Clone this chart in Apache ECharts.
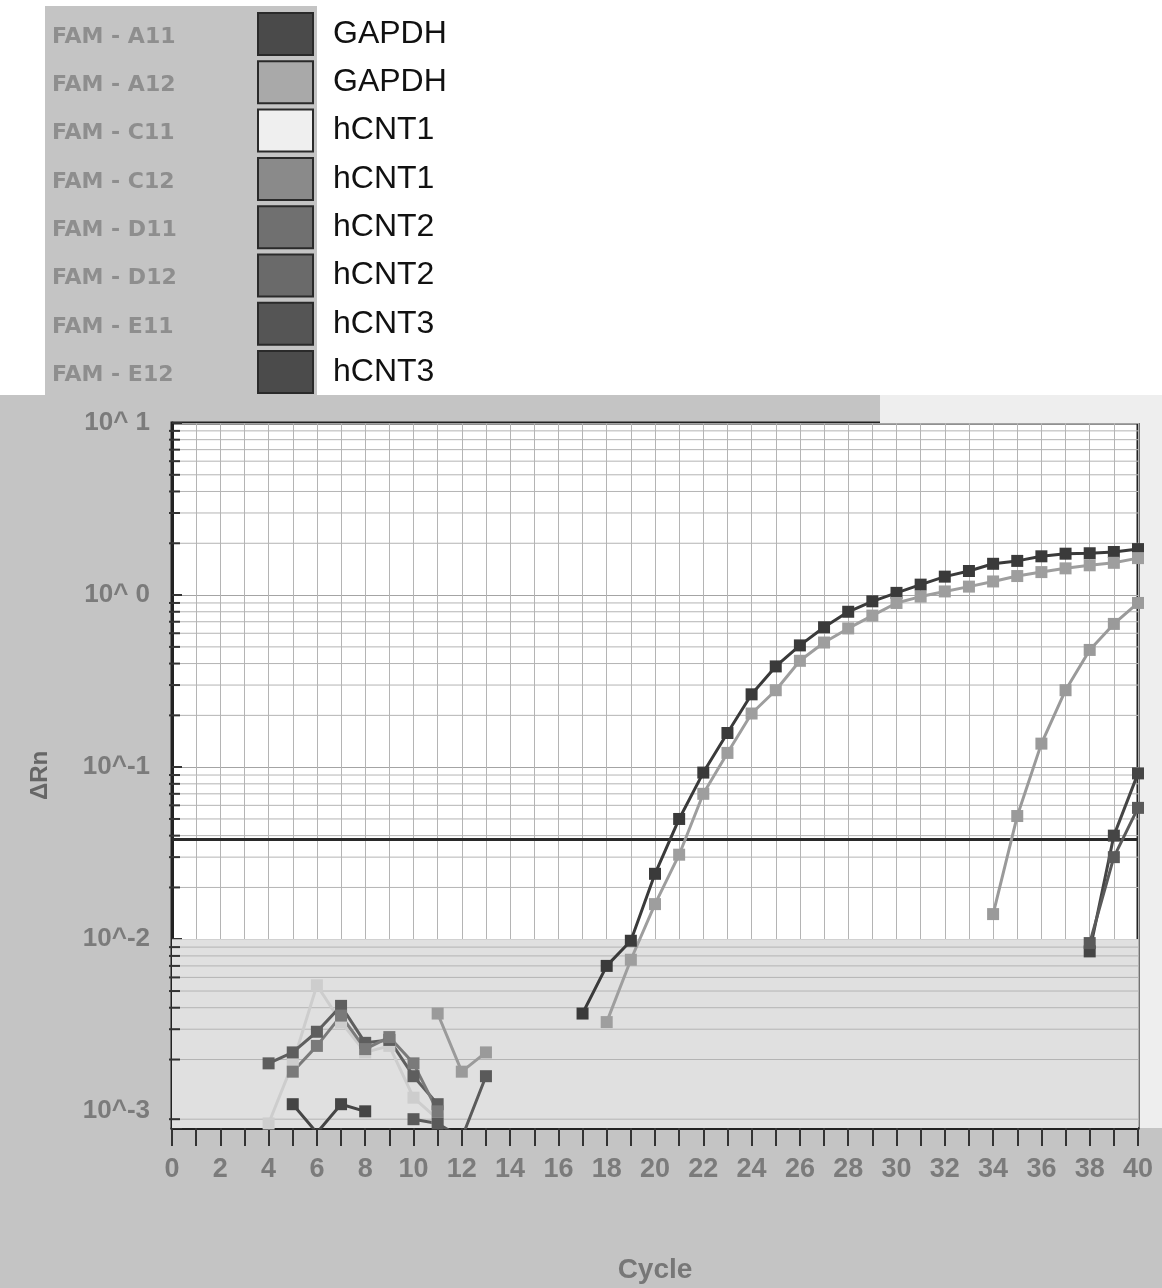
<!DOCTYPE html>
<html>
<head>
<meta charset="utf-8">
<title>FAM amplification plot</title>
<script src="https://cdn.jsdelivr.net/npm/echarts@6/dist/echarts.min.js"></script>
<style>
  html, body { margin: 0; padding: 0; background: #fff; }
  #chart { width: 1162px; height: 1288px; }
</style>
</head>
<body>
<div id="chart"></div>
<script>
// wells, targets and swatch colours, in legend order
const wells = ['FAM - A11', 'FAM - A12', 'FAM - C11', 'FAM - C12', 'FAM - D11', 'FAM - D12', 'FAM - E11', 'FAM - E12'];
const targets = ['GAPDH', 'GAPDH', 'hCNT1', 'hCNT1', 'hCNT2', 'hCNT2', 'hCNT3', 'hCNT3'];
const swatchColors = ['#4a4a4a', '#a9a9a9', '#efefef', '#8a8a8a', '#707070', '#6a6a6a', '#555555', '#4b4b4b'];
const lineColors = ['#3a3a3a', '#9e9e9e', '#cdcdcd', '#9a9a9a', '#5e5e5e', '#7a7a7a', '#454545', '#5a5a5a'];

// [cycle, delta Rn]; a null value breaks the line
const a11 = [[17, 0.0037], [18, 0.0070], [19, 0.0098], [20, 0.024], [21, 0.050], [22, 0.093], [23, 0.158], [24, 0.265],
  [25, 0.385], [26, 0.51], [27, 0.65], [28, 0.80], [29, 0.92], [30, 1.03], [31, 1.15], [32, 1.28], [33, 1.38],
  [34, 1.52], [35, 1.58], [36, 1.68], [37, 1.74], [38, 1.75], [39, 1.78], [40, 1.85]];
const a12 = [[18, 0.0033], [19, 0.0076], [20, 0.0160], [21, 0.031], [22, 0.070], [23, 0.121], [24, 0.205], [25, 0.280],
  [26, 0.415], [27, 0.53], [28, 0.64], [29, 0.76], [30, 0.90], [31, 0.98], [32, 1.05], [33, 1.12], [34, 1.20],
  [35, 1.29], [36, 1.36], [37, 1.43], [38, 1.49], [39, 1.54], [40, 1.64]];
const c11 = [[4, 0.00085], [5, 0.0019], [6, 0.0054], [7, 0.0033], [8, 0.0022], [9, 0.0024], [10, 0.0012], [11, 0.0009]];
const c12 = [[11, 0.0037], [12, 0.0017], [13, 0.0022], [14, null],
  [34, 0.014], [35, 0.052], [36, 0.137], [37, 0.28], [38, 0.48], [39, 0.68], [40, 0.90]];
const d11 = [[4, 0.0019], [5, 0.0022], [6, 0.0029], [7, 0.0041], [8, 0.0025], [9, 0.0026], [10, 0.0016], [11, 0.0011]];
const d12 = [[5, 0.0017], [6, 0.0024], [7, 0.0036], [8, 0.0023], [9, 0.0027], [10, 0.0019], [11, 0.0010]];
const e11 = [[5, 0.0011], [6, 0.00075], [7, 0.0011], [8, 0.0010], [9, null],
  [38, 0.0085], [39, 0.040], [40, 0.092]];
const e12 = [[10, 0.0009], [11, 0.00085], [12, 0.0007], [13, 0.0016], [14, null],
  [38, 0.0095], [39, 0.030], [40, 0.058]];
const wellData = [a11, a12, c11, c12, d11, d12, e11, e12];

const threshold = 0.038;

// axis ticks
const yTicks = [0.001, 0.01, 0.1, 1, 10];
const yTickLabels = ['10^-3', '10^-2', '10^-1', '10^ 0', '10^ 1'];
const minorSteps = [2, 3, 4, 5, 6, 7, 8, 9];
const yMin = 0.0008;
const yMax = 10;

const minorLines = [[0, 0.0009]];
yTicks.slice(0, 4).forEach(d => minorSteps.forEach(s => minorLines.push([0, s * d])));

const labelFont = "'Liberation Sans Narrow', 'Liberation Sans', Arial, sans-serif";

const chart = echarts.init(document.getElementById('chart'));

const series = wells.map((w, i) => ({
  name: w,
  type: 'line',
  data: wellData[i].map(p => [p[0], p[1] === null ? '-' : p[1]]),
  symbol: 'rect',
  symbolSize: 12,
  z: 3,
  lineStyle: { color: lineColors[i], width: 3 },
  itemStyle: { color: lineColors[i] },
  emphasis: { disabled: true },
  animation: false
}));

// minor log grid lines and left-axis minor ticks
series.unshift({
  type: 'custom',
  silent: true,
  z: 1,
  data: minorLines,
  encode: { x: 0, y: 1 },
  renderItem: (params, api) => {
    const a = api.coord([0, api.value(1)]);
    const b = api.coord([40, api.value(1)]);
    return {
      type: 'group',
      children: [
        { type: 'line', shape: { x1: a[0], y1: a[1], x2: b[0], y2: b[1] }, style: { stroke: '#b4b4b4', lineWidth: 1 } },
        { type: 'line', shape: { x1: a[0] - 3, y1: a[1], x2: a[0] + 8, y2: a[1] }, style: { stroke: '#333', lineWidth: 2 } }
      ]
    };
  },
  markArea: {
    silent: true,
    itemStyle: { color: '#e0e0e0' },
    data: [[{ yAxis: yMin }, { yAxis: 0.01 }]]
  },
  animation: false
});

series.push({
  name: 'threshold',
  type: 'line',
  data: [[0, threshold], [40, threshold]],
  symbol: 'none',
  silent: true,
  z: 2,
  lineStyle: { color: '#2a2a2a', width: 3 },
  animation: false
});

const graphicEls = [
  { type: 'rect', shape: { x: 0, y: 0, width: 1162, height: 395 }, style: { fill: '#ffffff' }, silent: true },
  { type: 'rect', shape: { x: 45, y: 6, width: 272, height: 392 }, style: { fill: '#c4c4c4' }, silent: true },
  { type: 'rect', shape: { x: 880, y: 395, width: 282, height: 28 }, style: { fill: '#eeeeee' }, silent: true },
  { type: 'rect', shape: { x: 1140, y: 395, width: 22, height: 733 }, style: { fill: '#eeeeee' }, silent: true }
];
wells.forEach((w, i) => {
  graphicEls.push({
    type: 'text',
    left: 52,
    top: 26 + i * 48.3,
    style: { text: w, font: "bold 22px 'DejaVu Sans', sans-serif", fill: '#8e8e8e' },
    silent: true
  });
});

chart.setOption({
  backgroundColor: '#c4c4c4',
  animation: false,
  graphic: { elements: graphicEls },
  legend: {
    data: wells.map((w, i) => ({ name: w, itemStyle: { color: swatchColors[i] } })),
    orient: 'vertical',
    left: 252,
    top: 7,
    icon: 'rect',
    itemWidth: 55,
    itemHeight: 42,
    itemGap: 4.3,
    selectedMode: false,
    formatter: name => targets[wells.indexOf(name)],
    itemStyle: { borderColor: '#2a2a2a', borderWidth: 2 },
    textStyle: { fontSize: 32, color: '#111', fontFamily: 'Liberation Sans, Arial, sans-serif', padding: [0, 0, 0, 15] }
  },
  grid: {
    left: 172,
    right: 24,
    top: 423,
    bottom: 160,
    outerBoundsMode: 'none',
    containLabel: false,
    show: true,
    backgroundColor: '#ffffff',
    borderColor: '#222',
    borderWidth: 3
  },
  xAxis: {
    type: 'value',
    min: 0,
    max: 40,
    interval: 1,
    name: 'Cycle',
    nameLocation: 'middle',
    nameGap: 128,
    nameTextStyle: { fontSize: 28, fontWeight: 'bold', color: '#777', fontFamily: labelFont },
    axisLine: { lineStyle: { color: '#222', width: 3 } },
    axisTick: { length: 18, lineStyle: { color: '#333', width: 2 } },
    axisLabel: {
      margin: 28,
      fontSize: 27,
      fontWeight: 'bold',
      color: '#7b7b7b',
      fontFamily: labelFont,
      formatter: v => (v % 2 === 0 ? String(v) : '')
    },
    splitLine: { show: true, lineStyle: { color: '#b4b4b4', width: 1 } }
  },
  yAxis: {
    type: 'log',
    logBase: 10,
    min: yMin,
    max: yMax,
    name: 'ΔRn',
    nameLocation: 'middle',
    nameRotate: 90,
    nameGap: 120,
    nameTextStyle: { fontSize: 24, fontWeight: 'bold', color: '#666', fontFamily: labelFont },
    axisLine: { show: true, lineStyle: { color: '#222', width: 3 } },
    axisTick: { show: true, inside: true, length: 10, lineStyle: { color: '#333', width: 2 } },
    axisLabel: {
      margin: 22,
      fontSize: 26,
      fontWeight: 'bold',
      color: '#7b7b7b',
      fontFamily: labelFont,
      formatter: v => {
        const i = yTicks.findIndex(t => Math.abs(v - t) / t < 0.01);
        return i < 0 ? '' : yTickLabels[i];
      }
    },
    splitLine: { show: true, lineStyle: { color: '#a4a4a4', width: 1 } }
  },
  series: series
});
</script>
</body>
</html>
